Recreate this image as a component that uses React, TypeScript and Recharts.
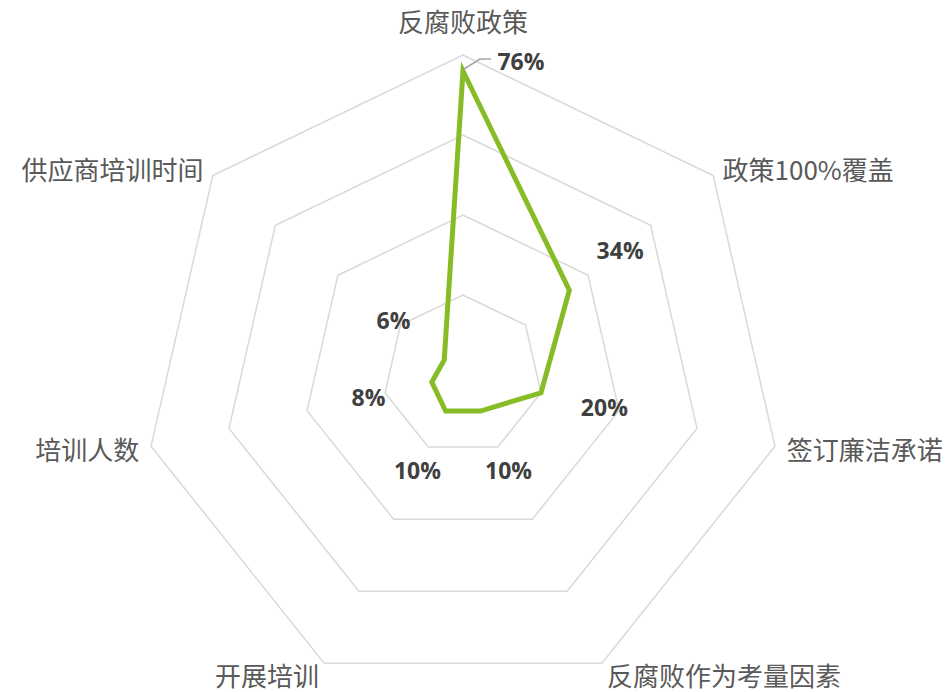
import React from 'react';
import { RadarChart, Radar, PolarGrid, PolarAngleAxis, PolarRadiusAxis } from 'recharts';

const categories = ['反腐败政策', '政策100%覆盖', '签订廉洁承诺', '反腐败作为考量因素', '开展培训', '培训人数', '供应商培训时间'];
const shares = [76, 34, 20, 10, 10, 8, 6];

const data = categories.map((name, i) => ({ name, share: shares[i] }));

const W = 951;
const H = 692;
const CX = 463;
const CY = 375;
const R = 320;

const GREEN = '#86bc25';

const AngleTick = (props: any) => {
  const { x, y, payload } = props;
  const dx = x - CX;
  let anchor = 'middle';
  if (dx > 1) anchor = 'start';
  else if (dx < -1) anchor = 'end';
  // top label sits a bit higher than the rest
  const dy = anchor === 'middle' ? -23 : 0;
  return (
    <text
      x={x}
      y={y + dy}
      textAnchor={anchor}
      dominantBaseline="central"
      fill="#595959"
      fontSize={26}
      fontFamily="'Noto Sans CJK SC', sans-serif"
    >
      {payload.value}
    </text>
  );
};

const ValueLabel = (props: any) => {
  const { cx, cy, index } = props;
  const value = shares[index];
  const style = { fontFamily: "'Open Sans', sans-serif", fontWeight: 700, fontSize: 23, fill: '#404040' };
  if (index === 0) {
    // leader line for the top value
    return (
      <g>
        <polyline
          points={`${cx + 1},${cy - 2} ${cx + 17},${cy - 12} ${cx + 28},${cy - 12}`}
          fill="none"
          stroke="#a6a6a6"
          strokeWidth={1.5}
        />
        <text x={cx + 58} y={cy - 10} textAnchor="middle" dominantBaseline="central" style={style}>
          {value}%
        </text>
      </g>
    );
  }
  const dx = cx - CX;
  const dy = cy - CY;
  const len = Math.sqrt(dx * dx + dy * dy) || 1;
  const off = 65;
  return (
    <text
      x={cx + (dx / len) * off}
      y={cy + (dy / len) * off}
      textAnchor="middle"
      dominantBaseline="central"
      style={style}
    >
      {value}%
    </text>
  );
};

export default function App() {
  return (
    <div style={{ position: 'absolute', left: 0, top: 0, width: W, height: H, background: '#fff' }}>
      <RadarChart width={W} height={H} data={data} cx={CX} cy={CY} outerRadius={R} margin={{ top: 0, right: 0, bottom: 0, left: 0 }}>
        <PolarGrid gridType="polygon" radialLines={false} stroke="#d9d9d9" strokeWidth={1.5} />
        <PolarRadiusAxis domain={[0, 80]} tickCount={5} tick={false} axisLine={false} />
        <PolarAngleAxis dataKey="name" tick={<AngleTick />} tickLine={false} axisLine={false} tickSize={12} />
        <Radar
          dataKey="share"
          stroke={GREEN}
          strokeWidth={5}
          fill="none"
          fillOpacity={0}
          dot={<ValueLabel />}
          isAnimationActive={false}
        />
      </RadarChart>
    </div>
  );
}
